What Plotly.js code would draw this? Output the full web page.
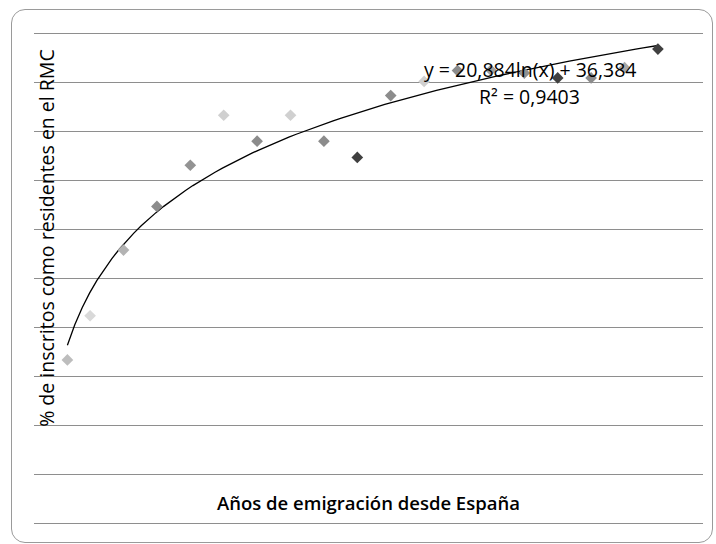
<!DOCTYPE html>
<html>
<head>
<meta charset="utf-8">
<script src="https://cdn.plot.ly/plotly-3.0.1.min.js"></script>
<style>
  html, body { margin: 0; padding: 0; background: #ffffff; }
  #frame { position: absolute; left: 11px; top: 9px; width: 700px; height: 532px;
           border: 1px solid #9a9a9a; border-radius: 14px; }
  #chart { position: absolute; left: 0; top: 0; width: 716px; height: 544px; }
</style>
</head>
<body>
<div id="frame"></div>
<div id="chart"></div>
<script>
// Years since emigration (x) and % registered as residents (y)
const years = [1, 1.68, 2.68, 3.68, 4.68, 5.68, 6.68, 7.68, 8.68, 9.68,
               10.68, 11.68, 12.68, 13.68, 14.68, 15.68, 16.68, 17.68, 18.68];
const pctResidents = [33.4, 42.4, 55.8, 64.7, 73.1, 83.3, 78.0, 83.3, 78.0, 74.7,
                      87.3, 90.2, 92.4, 92.5, 91.9, 90.9, 90.9, 93.0, 96.8];
const pointColors = ['#bdbdbd', '#d9d9d9', '#b3b3b3', '#8c8c8c', '#939393', '#d0d0d0',
                     '#8c8c8c', '#d0d0d0', '#8c8c8c', '#404040', '#8c8c8c', '#cfcfcf',
                     '#8c8c8c', '#a0a0a0', '#909090', '#404040', '#8c8c8c', '#a8a8a8', '#404040'];

// Logarithmic trendline shown in the chart: y = 20,884 ln(x) + 36,384
const trendA = 20.884;
const trendB = 36.384;
const trendLabel = 'y = 20,884ln(x) + 36,384';
const r2Label = 'R² = 0,9403';
const xTitle = 'Años de emigración desde España';
const yTitle = '% de inscritos como residentes en el RMC';

const xMin = Math.min(...years), xMax = Math.max(...years);
const trendX = [], trendY = [];
for (let i = 0; i <= 80; i++) {
  const x = xMin + (xMax - xMin) * i / 80;
  trendX.push(x);
  trendY.push(trendA * Math.log(x) + trendB);
}

const font = "Open Sans, Lato, sans-serif";

const traces = [
  {
    x: trendX, y: trendY, type: 'scatter', mode: 'lines',
    line: { color: '#000000', width: 1.3 }, hoverinfo: 'skip', showlegend: false
  },
  {
    x: years, y: pctResidents, type: 'scatter', mode: 'markers',
    marker: { symbol: 'diamond', size: 9, color: pointColors, line: { width: 0 } },
    showlegend: false
  }
];

const layout = {
  width: 716, height: 544,
  margin: { l: 34, r: 13, t: 26, b: 13 },
  paper_bgcolor: 'rgba(0,0,0,0)', plot_bgcolor: 'rgba(0,0,0,0)',
  showlegend: false,
  font: { family: font, color: '#000000' },
  xaxis: {
    range: [0, 20.03], showgrid: false, zeroline: false, showline: false,
    showticklabels: false, ticks: ''
  },
  yaxis: {
    range: [-1.5, 101.5], tick0: 0, dtick: 10, showgrid: true, gridcolor: '#8e8e8e', gridwidth: 1.2,
    zeroline: false, showline: false, showticklabels: false, ticks: ''
  },
  annotations: [
    { xref: 'x', yref: 'y', x: 0.39, y: 58.3, text: yTitle, textangle: -90,
      showarrow: false, xanchor: 'center', yanchor: 'middle',
      font: { family: font, size: 19.5, color: '#000000' } },
    { xref: 'x', yref: 'y', x: 10.0, y: 4.3, text: xTitle,
      showarrow: false, xanchor: 'center', yanchor: 'middle',
      font: { family: font, size: 18.5, weight: 600, color: '#000000' } },
    { xref: 'x', yref: 'y', x: 14.88, y: 92.7, text: trendLabel,
      showarrow: false, xanchor: 'center', yanchor: 'middle',
      font: { family: font, size: 19.5, color: '#000000' } },
    { xref: 'x', yref: 'y', x: 14.85, y: 87.2, text: r2Label,
      showarrow: false, xanchor: 'center', yanchor: 'middle',
      font: { family: font, size: 19.5, color: '#000000' } }
  ]
};

Plotly.newPlot('chart', traces, layout, { displayModeBar: false, staticPlot: true });
</script>
</body>
</html>
